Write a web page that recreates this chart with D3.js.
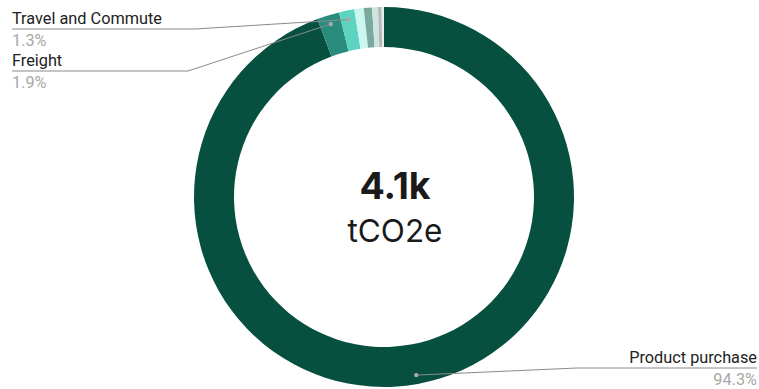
<!DOCTYPE html>
<html>
<head>
<meta charset="utf-8">
<script src="https://cdn.jsdelivr.net/npm/d3@7"></script>
<style>
  html, body { margin: 0; padding: 0; background: #fff; }
  svg { display: block; }
</style>
</head>
<body>
<svg id="chart" width="759" height="389"></svg>
<script>
// Emission categories, share of total (%) and slice colours
const categories = ["Product purchase", "Freight", "Travel and Commute", "Waste", "Energy", "Capital goods", "Water", "Other"];
const shares = [94.3, 1.9, 1.3, 0.8, 0.7, 0.5, 0.3, 0.2];
const colors = ["#07503f", "#2a8c7d", "#5dd3c1", "#cbf5ef", "#7ba89e", "#d0e4de", "#b3b9b7", "#e6eceb"];
const totalLabel = "4.1k";
const unitLabel = "tCO2e";

// Which slices get a callout, and where the callout text sits
const callouts = [
  { name: "Travel and Commute", side: "left",  y: 24,  elbowX: 195 },
  { name: "Freight",            side: "left",  y: 66,  elbowX: 188 },
  { name: "Product purchase",   side: "right", y: 363, elbowX: 577 }
];

const W = 759, H = 389;
const cx = 384, cy = 197;
const outerR = 190, innerR = 150, dotR = 181;
const textCx = 395;

const svg = d3.select("#chart");
const g = svg.append("g").attr("transform", `translate(${cx},${cy})`);

const data = categories.map((c, i) => ({ name: c, value: shares[i], color: colors[i] }));

const pie = d3.pie().value(d => d.value).sort(null);
const arcs = pie(data);
const arc = d3.arc().innerRadius(innerR).outerRadius(outerR);
const dotArc = d3.arc().innerRadius(dotR).outerRadius(dotR);

g.selectAll("path.slice")
  .data(arcs)
  .join("path")
  .attr("class", "slice")
  .attr("d", arc)
  .attr("fill", d => d.data.color);

// Centre total
svg.append("text")
  .attr("x", textCx).attr("y", 199)
  .attr("text-anchor", "middle")
  .attr("font-family", "Inter, Roboto, sans-serif")
  .attr("font-weight", 700)
  .attr("font-size", 37.5)
  .attr("fill", "#1a1a1a")
  .text(totalLabel);

svg.append("text")
  .attr("x", textCx).attr("y", 242)
  .attr("text-anchor", "middle")
  .attr("font-family", "Inter, Roboto, sans-serif")
  .attr("font-weight", 400)
  .attr("font-size", 31.5)
  .attr("fill", "#1a1a1a")
  .text(unitLabel);

// Callouts: leader line from slice midpoint, underline, name and percentage
const lbl = svg.append("g");
callouts.forEach(co => {
  const a = arcs.find(d => d.data.name === co.name);
  const [px, py] = dotArc.centroid(a);
  const dx = cx + px, dy = cy + py;
  const lineY = co.y + 5;
  const leftX = co.side === "left" ? 12 : co.elbowX;
  const rightX = co.side === "left" ? co.elbowX : 757;
  const textX = co.side === "left" ? 12 : 757;
  const anchor = co.side === "left" ? "start" : "end";

  lbl.append("polyline")
    .attr("points", co.side === "left"
      ? [[leftX, lineY], [rightX, lineY], [dx, dy]].join(" ")
      : [[rightX, lineY], [leftX, lineY], [dx, dy]].join(" "))
    .attr("fill", "none")
    .attr("stroke", "#8a8a8a")
    .attr("stroke-width", 1);

  lbl.append("circle")
    .attr("cx", dx).attr("cy", dy).attr("r", 2.2)
    .attr("fill", "#a9a9a9");

  lbl.append("text")
    .attr("x", textX).attr("y", co.y)
    .attr("text-anchor", anchor)
    .attr("font-family", "Roboto, sans-serif")
    .attr("font-size", 16.3)
    .attr("fill", "#222")
    .text(co.name);

  lbl.append("text")
    .attr("x", textX).attr("y", co.y + 22)
    .attr("text-anchor", anchor)
    .attr("font-family", "Roboto, sans-serif")
    .attr("font-size", 16.3)
    .attr("fill", "#a8a8a8")
    .text(d3.format(".1f")(a.data.value) + "%");
});
</script>
</body>
</html>
